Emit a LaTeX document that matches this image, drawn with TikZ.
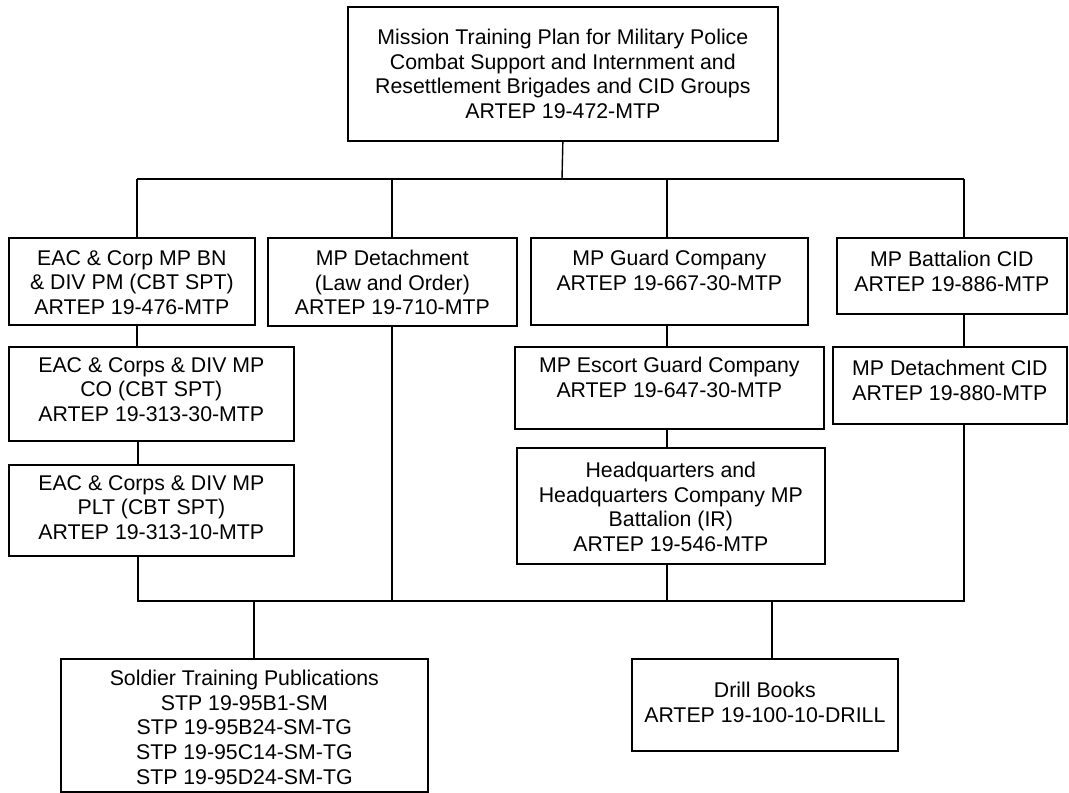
\documentclass[tikz,border=0pt]{standalone}
\usepackage{fontspec}
\setmainfont{Liberation Sans}
\begin{document}
\begin{tikzpicture}[x=1pt,y=-1pt,
  box/.style={draw, line width=1.7pt, anchor=north west, inner sep=0pt},
  txt/.style={anchor=north, align=center, inner sep=0pt, font=\fontsize{21.3}{24.6}\selectfont},
  conn/.style={line width=1.4pt}]
\useasboundingbox (0,0) rectangle (1069,793);
% boxes
\node[box, minimum width=430pt, minimum height=134pt] (top) at (347,6) {};
\node[txt, anchor=center] (top-t) at (top.center) {Mission Training Plan for Military Police\\Combat Support and Internment and\\Resettlement Brigades and CID Groups\\ARTEP 19-472-MTP};

\node[box, minimum width=246pt, minimum height=87pt] (a) at (8,237) {};
\node[txt] (a-t) at ([yshift=-13pt]a.north) {EAC \& Corp MP BN\\\& DIV PM (CBT SPT)\\ARTEP 19-476-MTP};

\node[box, minimum width=249pt, minimum height=88pt] (b) at (267,237) {};
\node[txt] (b-t) at ([yshift=-13pt]b.north) {MP Detachment\\(Law and Order)\\ARTEP 19-710-MTP};

\node[box, minimum width=277pt, minimum height=87pt] (c) at (530,237) {};
\node[txt] (c-t) at ([yshift=-13pt]c.north) {MP Guard Company\\ARTEP 19-667-30-MTP};

\node[box, minimum width=230pt, minimum height=76pt] (d) at (836,237) {};
\node[txt] (d-t) at ([yshift=-14pt]d.north) {MP Battalion CID\\ARTEP 19-886-MTP};

\node[box, minimum width=285pt, minimum height=94pt] (e) at (8,346) {};
\node[txt] (e-t) at ([yshift=-11pt]e.north) {EAC \& Corps \& DIV MP\\CO (CBT SPT)\\ARTEP 19-313-30-MTP};

\node[box, minimum width=285pt, minimum height=91pt] (f) at (8,464) {};
\node[txt] (f-t) at ([yshift=-11pt]f.north) {EAC \& Corps \& DIV MP\\PLT (CBT SPT)\\ARTEP 19-313-10-MTP};

\node[box, minimum width=309pt, minimum height=82pt] (g) at (514,346) {};
\node[txt] (g-t) at ([yshift=-11pt]g.north) {MP Escort Guard Company\\ARTEP 19-647-30-MTP};

\node[box, minimum width=234pt, minimum height=77pt] (h) at (832,346) {};
\node[txt] (h-t) at ([yshift=-14pt]h.north) {MP Detachment CID\\ARTEP 19-880-MTP};

\node[box, minimum width=308pt, minimum height=116pt] (i) at (516,447) {};
\node[txt] (i-t) at ([yshift=-15pt]i.north) {Headquarters and\\Headquarters Company MP\\Battalion (IR)\\ARTEP 19-546-MTP};

\node[box, minimum width=367pt, minimum height=133pt] (s) at (60,658) {};
\node[txt] (s-t) at ([yshift=-12pt]s.north) {Soldier Training Publications\\STP 19-95B1-SM\\STP 19-95B24-SM-TG\\STP 19-95C14-SM-TG\\STP 19-95D24-SM-TG};

\node[box, minimum width=266pt, minimum height=92pt] (k) at (631,658) {};
\node[txt] (k-t) at ([yshift=-24pt]k.north) {Drill Books\\ARTEP 19-100-10-DRILL};

% junction coordinates
\coordinate (j0) at (562,179);
\coordinate (ja) at (137,179);
\coordinate (jb) at (392,179);
\coordinate (jc) at (667,179);
\coordinate (jd) at (964,179);
\coordinate (ba) at (138,601);
\coordinate (bb) at (392,601);
\coordinate (bc) at (667,601);
\coordinate (bd) at (964,601);
\coordinate (bs) at (254,601);
\coordinate (bk) at (772,601);

% upper bus
\draw[conn] (top.south) -- (j0);
\draw[conn] (ja) -- (jd);
\draw[conn] (ja) -- (ja |- a.north);
\draw[conn] (jb) -- (jb |- b.north);
\draw[conn] (jc) -- (jc |- c.north);
\draw[conn] (jd) -- (jd |- d.north);
% chains
\draw[conn] (ja |- a.south) -- (ja |- e.north);
\draw[conn] (ba |- e.south) -- (ba |- f.north);
\draw[conn] (jc |- c.south) -- (jc |- g.north);
\draw[conn] (jc |- g.south) -- (jc |- i.north);
\draw[conn] (jd |- d.south) -- (jd |- h.north);
% lower bus
\draw[conn] (ba |- f.south) -- (ba) -- (bd) -- (bd |- h.south);
\draw[conn] (jb |- b.south) -- (bb);
\draw[conn] (bc |- i.south) -- (bc);
\draw[conn] (bs) -- (bs |- s.north);
\draw[conn] (bk) -- (bk |- k.north);
\end{tikzpicture}
\end{document}
